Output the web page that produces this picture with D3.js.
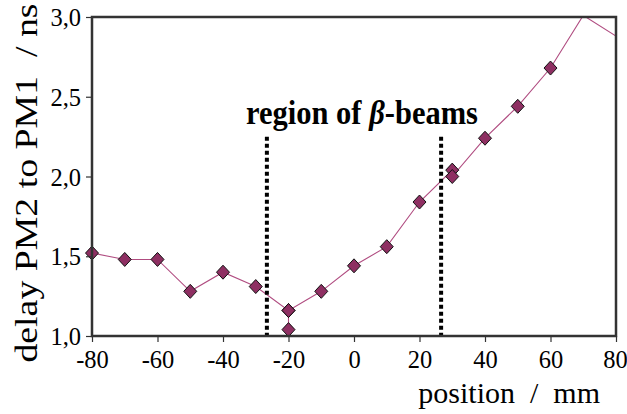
<!DOCTYPE html>
<html><head><meta charset="utf-8">
<script src="https://cdn.jsdelivr.net/npm/d3@7"></script>
<style>body{margin:0;background:#fff}svg{display:block}</style>
</head><body>
<script>
const positions = [-80,-70,-60,-50,-40,-30,-20,-20,-20,-10,0,10,20,30,30,40,50,60,70,80];
const delays    = [1.52,1.48,1.48,1.28,1.40,1.31,1.16,1.04,1.16,1.28,1.44,1.56,1.84,2.04,2.00,2.24,2.44,2.68,3.01,2.88];
const markerShown = [1,1,1,1,1,1,1,1,1,1,1,1,1,1,1,1,1,1,0,0];
const xTicks = [-80,-60,-40,-20,0,20,40,60,80];
const yTicks = [1.0,1.5,2.0,2.5,3.0];
const regionBounds = [-26.6, 26.6];
const regionTop = 2.25;
const regionLabel = "region of ";

const W=627,H=414, m={l:92,r:11,t:17,b:78};
const svg=d3.select("body").append("svg").attr("width",W).attr("height",H);
const x=d3.scaleLinear().domain([-80,80]).range([m.l,W-m.r]);
const y=d3.scaleLinear().domain([1,3]).range([H-m.b,m.t]);
const font="'Liberation Serif','Times New Roman',serif";
const fmt=d=>d3.format(".1f")(d).replace(".",",");

const data=positions.map((p,i)=>({p,v:delays[i],show:markerShown[i]}));

svg.append("clipPath").attr("id","c").append("rect")
  .attr("x",m.l).attr("y",m.t).attr("width",W-m.r-m.l).attr("height",H-m.b-m.t);

svg.append("path").datum(data).attr("clip-path","url(#c)")
  .attr("fill","none").attr("stroke","#b04c80").attr("stroke-width",1.1)
  .attr("d",d3.line().x(d=>x(d.p)).y(d=>y(d.v)));

// region lines
svg.selectAll(".reg").data(regionBounds).enter().append("line")
  .attr("x1",d=>x(d)).attr("x2",d=>x(d)).attr("y1",y(regionTop)).attr("y2",y(1))
  .attr("stroke","#000").attr("stroke-width",4).attr("stroke-dasharray","4,3");

const dia="M0,-7L6.5,0L0,7L-6.5,0Z";
svg.selectAll(".pt").data(data.filter(d=>d.show)).enter().append("path")
  .attr("transform",d=>`translate(${x(d.p)},${y(d.v)})`)
  .attr("d",dia).attr("fill","#8e2f62").attr("stroke","#111").attr("stroke-width",1);

// frame
svg.append("rect").attr("x",m.l).attr("y",m.t).attr("width",W-m.r-m.l).attr("height",H-m.b-m.t)
  .attr("fill","none").attr("stroke","#333").attr("stroke-width",2.5);

const xa=svg.append("g").attr("transform",`translate(0,${H-m.b})`)
  .call(d3.axisBottom(x).tickValues(xTicks).tickSize(6).tickPadding(3).tickFormat(d=>String(d)));
const ya=svg.append("g").attr("transform",`translate(${m.l},0)`)
  .call(d3.axisLeft(y).tickValues(yTicks).tickSize(6).tickPadding(5).tickFormat(fmt));
[xa,ya].forEach(a=>{
  a.select(".domain").remove();
  a.selectAll(".tick line").attr("stroke","#333").attr("stroke-width",1.2);
  a.selectAll("text").attr("font-family",font).attr("font-size",24.5).attr("fill","#000");
});
xa.selectAll("text").attr("dy","0.95em");
xa.selectAll(".tick:last-of-type text").attr("dx","-1");
ya.selectAll("text").attr("dy","0.35em");

svg.append("text").attr("x",600).attr("y",403).attr("text-anchor","end")
  .attr("font-family",font).attr("font-size",30).attr("xml:space","preserve")
  .text("position  /  mm");
svg.append("text").attr("transform","translate(37,183) rotate(-90) scale(1.22,1)").attr("text-anchor","middle")
  .attr("font-family",font).attr("font-size",31).attr("xml:space","preserve")
  .text("delay PM2 to PM1  / ns");

const t=svg.append("text").attr("transform","translate(362,124) scale(1,1.08)").attr("text-anchor","middle")
  .attr("font-family",font).attr("font-size",30.5).attr("font-weight","bold");
t.append("tspan").text(regionLabel);
t.append("tspan").attr("font-style","italic").text("β");
t.append("tspan").text("-beams");
</script>
</body></html>
